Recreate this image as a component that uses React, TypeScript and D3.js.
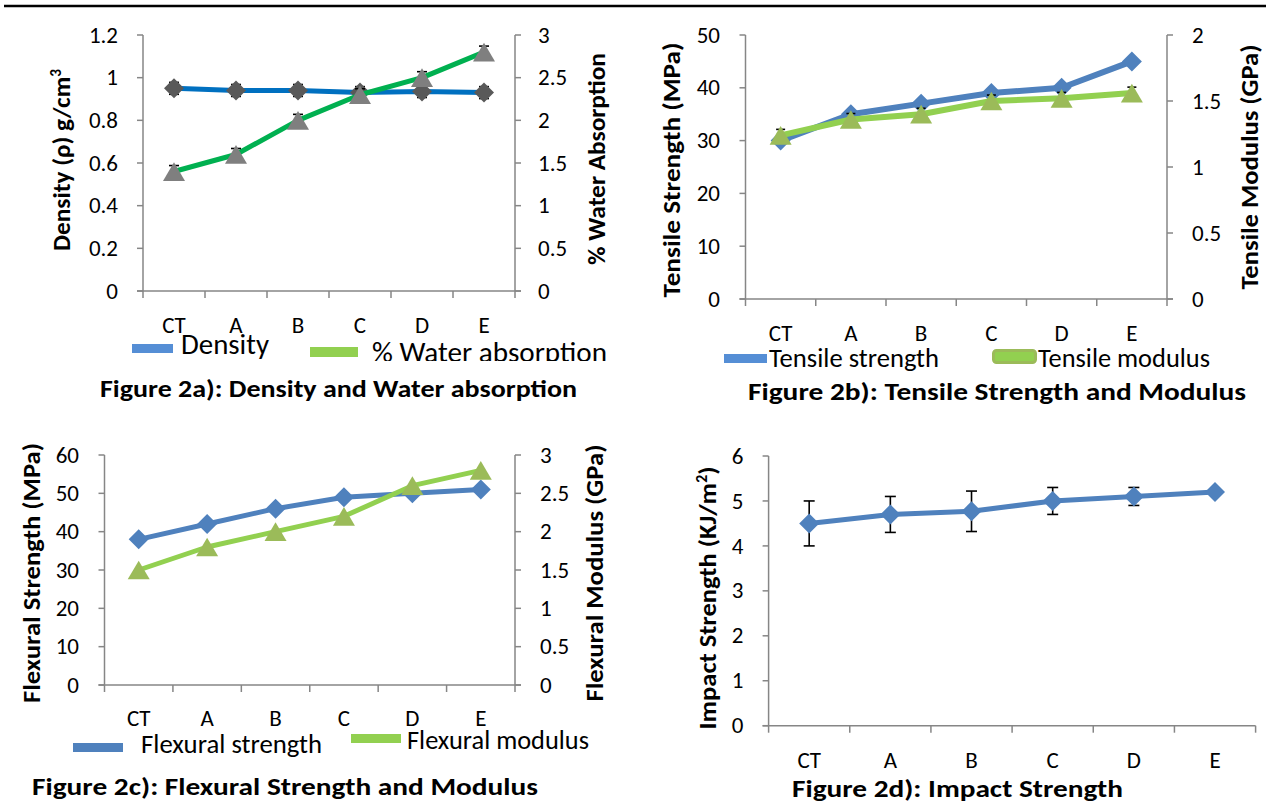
import React from 'react';
import * as d3 from 'd3';

// ---------- DATA ----------
const categories = ['CT', 'A', 'B', 'C', 'D', 'E'];

const density = [0.95, 0.94, 0.94, 0.93, 0.935, 0.93];
const densityErr = [0.028, 0.028, 0.028, 0.028, 0.028, 0.028];
const waterAbsorption = [1.4, 1.6, 2.0, 2.3, 2.5, 2.8];
const waterErr = [0.07, 0.07, 0.07, 0.07, 0.07, 0.07];
const densityTicks = [0, 0.2, 0.4, 0.6, 0.8, 1, 1.2];
const waterTicks = [0, 0.5, 1, 1.5, 2, 2.5, 3];

const tensileStrength = [30, 35, 37, 39, 40, 45];
const tensileModulus = [1.24, 1.36, 1.4, 1.5, 1.52, 1.56];
const tensileModErr = [0.045, 0.045, 0.045, 0.045, 0.045, 0.045];
const tensileTicks = [0, 10, 20, 30, 40, 50];
const tensileModTicks = [0, 0.5, 1, 1.5, 2];

const flexuralStrength = [38, 42, 46, 49, 50, 51];
const flexuralModulus = [1.5, 1.8, 2.0, 2.2, 2.6, 2.8];
const flexTicks = [0, 10, 20, 30, 40, 50, 60];
const flexModTicks = [0, 0.5, 1, 1.5, 2, 2.5, 3];

const impactStrength = [4.5, 4.7, 4.77, 5.0, 5.1, 5.2];
const impactErr = [0.5, 0.4, 0.45, 0.3, 0.2, 0.0];
const impactTicks = [0, 1, 2, 3, 4, 5, 6];

// ---------- STYLE ----------
const FONT = "Carlito, Lato, 'Open Sans', sans-serif";
const AXIS = '#868686';
const TICK_FS = 23;
const TICK_DY = 7.6;

type Series = {
  values: number[];
  err?: number[];
  errCap?: number;
  side: 'left' | 'right';
  line: string;
  lw: number;
  marker: 'diamond' | 'triangle';
  fill: string;
  size: number;
};

type PanelProps = {
  L: number; R: number; T: number; B: number;
  leftMax: number; leftTicks: number[];
  rightMax?: number; rightTicks?: number[];
  series: Series[];
  leftLabelX: number; rightLabelX?: number; xLabelY: number;
};

function markerPath(kind: 'diamond' | 'triangle', s: number) {
  if (kind === 'diamond') return `M0,${-s / 2}L${s / 2},0L0,${s / 2}L${-s / 2},0Z`;
  const h = s * 0.85;
  return `M0,${-h / 2}L${s / 2},${h / 2}L${-s / 2},${h / 2}Z`;
}

function Panel(p: PanelProps) {
  const x = d3.scaleBand<string>().domain(categories).range([p.L, p.R]);
  const yL = d3.scaleLinear().domain([0, p.leftMax]).range([p.B, p.T]);
  const yR = p.rightMax !== undefined ? d3.scaleLinear().domain([0, p.rightMax]).range([p.B, p.T]) : null;
  const cx = (c: string) => (x(c) as number) + x.bandwidth() / 2;
  const bounds = [...categories.map((c) => x(c) as number), p.R];
  const tk = 6;
  return (
    <g>
      <line x1={p.L} x2={p.L} y1={p.T} y2={p.B} stroke={AXIS} strokeWidth={1.5} />
      <line x1={p.L - tk} x2={yR ? p.R + tk : p.R} y1={p.B} y2={p.B} stroke={AXIS} strokeWidth={1.5} />
      {p.leftTicks.map((t) => (
        <g key={'l' + t}>
          <line x1={p.L - tk} x2={p.L} y1={yL(t)} y2={yL(t)} stroke={AXIS} strokeWidth={1.5} />
          <text x={p.leftLabelX} y={yL(t) + TICK_DY} textAnchor="end" fontSize={TICK_FS} fontFamily={FONT} fill="#000">{String(t)}</text>
        </g>
      ))}
      {yR && (
        <g>
          <line x1={p.R} x2={p.R} y1={p.T} y2={p.B} stroke={AXIS} strokeWidth={1.5} />
          {p.rightTicks!.map((t) => (
            <g key={'r' + t}>
              <line x1={p.R} x2={p.R + tk} y1={yR(t)} y2={yR(t)} stroke={AXIS} strokeWidth={1.5} />
              <text x={p.rightLabelX} y={yR(t) + TICK_DY} textAnchor="start" fontSize={TICK_FS} fontFamily={FONT} fill="#000">{String(t)}</text>
            </g>
          ))}
        </g>
      )}
      {bounds.map((b, i) => (
        <line key={'xt' + i} x1={b} x2={b} y1={p.B} y2={p.B + 7} stroke={AXIS} strokeWidth={1.5} />
      ))}
      {categories.map((c) => (
        <text key={'xl' + c} x={cx(c)} y={p.xLabelY + TICK_DY} textAnchor="middle" fontSize={TICK_FS} fontFamily={FONT} fill="#000">{c}</text>
      ))}
      {p.series.map((s, si) => {
        const y = s.side === 'left' ? yL : (yR as d3.ScaleLinear<number, number>);
        const pts = s.values.map((v, i) => [cx(categories[i]), y(v)] as [number, number]);
        const path = d3.line()(pts) || '';
        const cap = s.errCap ?? 5.5;
        return (
          <g key={'s' + si}>
            <path d={path} fill="none" stroke={s.line} strokeWidth={s.lw} strokeLinejoin="round" strokeLinecap="round" />
            {s.err && s.values.map((v, i) => {
              const e = s.err![i];
              if (!e) return null;
              const xx = cx(categories[i]);
              return (
                <g key={'e' + i} stroke="#000" strokeWidth={1.6}>
                  <line x1={xx} x2={xx} y1={y(v + e)} y2={y(v - e)} />
                  <line x1={xx - cap} x2={xx + cap} y1={y(v + e)} y2={y(v + e)} />
                  <line x1={xx - cap} x2={xx + cap} y1={y(v - e)} y2={y(v - e)} />
                </g>
              );
            })}
            {pts.map(([px, py], i) => (
              <path key={'m' + i} d={markerPath(s.marker, s.size)} transform={`translate(${px},${py})`} fill={s.fill} />
            ))}
          </g>
        );
      })}
    </g>
  );
}

function VText({ x, cy, len, text, fs }: { x: number; cy: number; len: number; text: React.ReactNode; fs: number }) {
  return (
    <text transform={`translate(${x},${cy}) rotate(-90)`} textAnchor="middle" fontSize={fs} fontWeight="bold"
      fontFamily={FONT} fill="#000" textLength={len} lengthAdjust="spacingAndGlyphs">{text}</text>
  );
}

function HText({ x, y, len, text, fs, bold }: { x: number; y: number; len: number; text: string; fs: number; bold?: boolean }) {
  return (
    <text x={x} y={y} fontSize={fs} fontWeight={bold ? 'bold' : 'normal'} fontFamily={FONT} fill="#000"
      textLength={len} lengthAdjust="spacingAndGlyphs">{text}</text>
  );
}

export default function App() {
  return (
    <svg width={1270} height={805} style={{ position: 'absolute', left: 0, top: 0, background: '#fff' }}>
      <rect x={0} y={0} width={1270} height={805} fill="#fff" />
      <defs>
        <clipPath id="clipA"><rect x={0} y={0} width={640} height={361} /></clipPath>
      </defs>
      <line x1={4} x2={1266} y1={6} y2={6} stroke="#000" strokeWidth={2.5} />

      {/* Panel a */}
      <Panel L={143} R={515} T={35} B={291} leftMax={1.2} leftTicks={densityTicks} rightMax={3} rightTicks={waterTicks}
        leftLabelX={118} rightLabelX={538} xLabelY={325}
        series={[
          { values: density, err: densityErr, errCap: 5, side: 'left', line: '#0070C0', lw: 5, marker: 'diamond', fill: '#595959', size: 20 },
          { values: waterAbsorption, err: waterErr, errCap: 5, side: 'right', line: '#00B050', lw: 5, marker: 'triangle', fill: '#7F7F7F', size: 22 },
        ]} />
      <VText x={70} cy={160} len={182} fs={25} text={<>Density (ρ) g/cm<tspan fontSize={15} dy={-9}>3</tspan></>} />
      <VText x={605} cy={159} len={212} fs={25} text="% Water Absorption" />
      <g clipPath="url(#clipA)">
        <rect x={132} y={344} width={41} height={9} fill="#558ED5" />
        <HText x={181} y={354} len={88} fs={28} text="Density" />
        <rect x={310} y={347} width={48} height={10} fill="#92D050" />
        <HText x={372} y={362} len={235} fs={28} text="% Water absorption" />
      </g>
      <HText x={100} y={397} len={477} fs={25} bold text="Figure 2a): Density and Water absorption" />

      {/* Panel b */}
      <Panel L={745.5} R={1167} T={35} B={299} leftMax={50} leftTicks={tensileTicks} rightMax={2} rightTicks={tensileModTicks}
        leftLabelX={720} rightLabelX={1192} xLabelY={333}
        series={[
          { values: tensileStrength, side: 'left', line: '#4F81BD', lw: 6, marker: 'diamond', fill: '#4F81BD', size: 20 },
          { values: tensileModulus, err: tensileModErr, errCap: 4.5, side: 'right', line: '#92D050', lw: 6, marker: 'triangle', fill: '#9BBB59', size: 22 },
        ]} />
      <VText x={680} cy={170} len={255} fs={25} text="Tensile Strength (MPa)" />
      <VText x={1258} cy={167} len={245} fs={25} text="Tensile Modulus (GPa)" />
      <rect x={724} y={354} width={43} height={9} fill="#558ED5" />
      <HText x={769} y={367} len={170} fs={26} text="Tensile strength" />
      <rect x={993.5} y={350.5} width={42} height={12} rx={3} fill="#92D050" stroke="#9BBB59" strokeWidth={3} />
      <HText x={1038} y={367} len={172} fs={26} text="Tensile modulus" />
      <HText x={748} y={400} len={498} fs={25} bold text="Figure 2b): Tensile Strength and Modulus" />

      {/* Panel c */}
      <Panel L={104.5} R={515} T={455} B={685} leftMax={60} leftTicks={flexTicks} rightMax={3} rightTicks={flexModTicks}
        leftLabelX={79} rightLabelX={540} xLabelY={718}
        series={[
          { values: flexuralStrength, side: 'left', line: '#4F81BD', lw: 5, marker: 'diamond', fill: '#4F81BD', size: 20 },
          { values: flexuralModulus, side: 'right', line: '#92D050', lw: 5, marker: 'triangle', fill: '#9BBB59', size: 22 },
        ]} />
      <VText x={40} cy={573} len={260} fs={25} text="Flexural Strength (MPa)" />
      <VText x={603} cy={573} len={257} fs={25} text="Flexural Modulus (GPa)" />
      <rect x={73} y={743} width={50} height={9} fill="#4F81BD" />
      <HText x={141} y={753} len={181} fs={26} text="Flexural strength" />
      <rect x={351} y={734} width={50} height={9} fill="#92D050" />
      <HText x={407} y={749} len={182} fs={26} text="Flexural modulus" />
      <HText x={32} y={795} len={506} fs={25} bold text="Figure 2c): Flexural Strength and Modulus" />

      {/* Panel d */}
      <Panel L={768.6} R={1255.6} T={456} B={725.7} leftMax={6} leftTicks={impactTicks}
        leftLabelX={743.5} xLabelY={760.7}
        series={[
          { values: impactStrength, err: impactErr, side: 'left', line: '#4F81BD', lw: 5, marker: 'diamond', fill: '#4F81BD', size: 20 },
        ]} />
      <VText x={716} cy={598} len={263} fs={25} text={<>Impact Strength (KJ/m<tspan fontSize={15} dy={-9}>2</tspan><tspan dy={9}>)</tspan></>} />
      <HText x={792} y={797} len={331} fs={25} bold text="Figure 2d): Impact Strength" />
    </svg>
  );
}
